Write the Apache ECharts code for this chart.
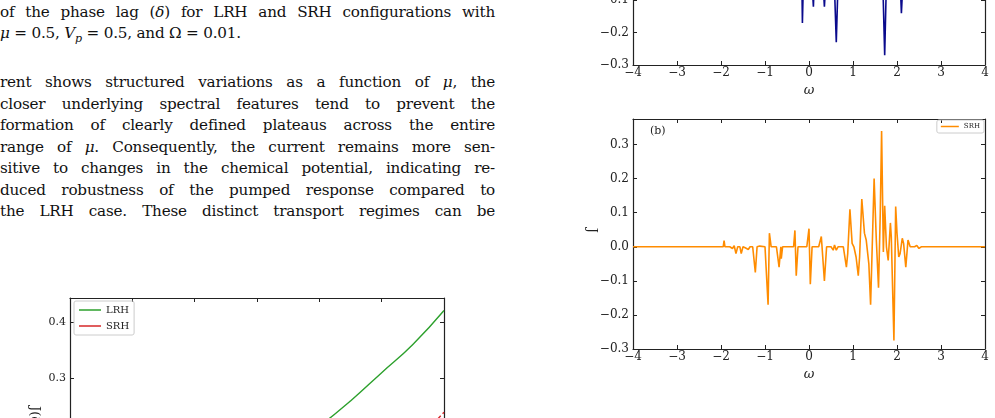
<!DOCTYPE html>
<html><head><meta charset="utf-8">
<script src="https://cdn.jsdelivr.net/npm/echarts@6/dist/echarts.min.js"></script>
<style>
body{margin:0;width:995px;height:418px;overflow:hidden;background:#fff;position:relative;font-family:"DejaVu Serif","Liberation Serif",serif;color:#111}
.ln{position:absolute;left:0;width:495px;font-size:15.2px;line-height:20px;text-align:justify;text-align-last:justify;white-space:nowrap;letter-spacing:-0.2px}
.c{position:absolute}
</style></head><body>
<div class="ln" style="top:2px">of the phase lag (<i>δ</i>) for LRH and SRH configurations with</div>
<div class="ln" style="top:23px;text-align-last:left"><i>μ</i> = 0.5, <i>V<sub style="font-size:11px">p</sub></i> = 0.5, and Ω = 0.01.</div>
<div class="ln" style="top:72px">rent shows structured variations as a function of <i>μ</i>, the</div>
<div class="ln" style="top:93.5px">closer underlying spectral features tend to prevent the</div>
<div class="ln" style="top:115px">formation of clearly defined plateaus across the entire</div>
<div class="ln" style="top:136.5px">range of <i>μ</i>. Consequently, the current remains more sen-</div>
<div class="ln" style="top:158px">sitive to changes in the chemical potential, indicating re-</div>
<div class="ln" style="top:179.5px">duced robustness of the pumped response compared to</div>
<div class="ln" style="top:201px">the LRH case. These distinct transport regimes can be</div>
<div id="ca" class="c" style="left:580px;top:-175px;width:415px;height:290px"></div>
<div id="cb" class="c" style="left:580px;top:110px;width:415px;height:280px"></div>
<div id="cc" class="c" style="left:0px;top:290px;width:470px;height:400px"></div>
<script>
// panel (b) SRH current J(ω)
const srh = [[-4,0],[-1.95,0],[-1.93,0.018],[-1.91,0],[-1.8,0],[-1.78,0.005],[-1.74,-0.005],[-1.7,0.003],[-1.66,-0.02],[-1.62,0],[-1.57,0],[-1.54,-0.02],[-1.5,0],[-1.45,-0.003],[-1.42,0.002],[-1.38,-0.008],[-1.34,0],[-1.28,0],[-1.22,-0.075],[-1.18,0],[-1.12,0.002],[-1.0,0],[-0.93,-0.17],[-0.9,0.04],[-0.86,0],[-0.74,0],[-0.68,-0.06],[-0.64,0],[-0.63,-0.035],[-0.6,0],[-0.35,0],[-0.32,0.048],[-0.29,-0.085],[-0.25,0],[-0.05,0],[0,0.053],[0.03,-0.11],[0.07,0],[0.22,0],[0.28,0.03],[0.35,-0.1],[0.4,0],[0.5,0],[0.55,-0.01],[0.58,0.005],[0.62,-0.01],[0.66,0],[0.78,0],[0.85,-0.06],[0.88,-0.02],[0.93,0.11],[0.98,0.01],[1.02,0.0],[1.07,-0.03],[1.12,-0.085],[1.15,-0.03],[1.2,0.14],[1.26,0.04],[1.3,0.02],[1.36,-0.05],[1.4,-0.17],[1.45,0.06],[1.48,0.2],[1.53,0.02],[1.58,-0.12],[1.62,0.1],[1.65,0.34],[1.69,-0.015],[1.72,0.12],[1.76,0.0],[1.8,-0.04],[1.85,0.07],[1.87,0.03],[1.93,-0.275],[1.97,0.118],[2.0,0.04],[2.04,-0.03],[2.07,-0.02],[2.12,0.025],[2.15,0.01],[2.2,-0.06],[2.25,0.02],[2.3,0],[2.4,0],[2.45,0.004],[2.5,-0.005],[2.55,0],[4,0]];
// panel (a) LRH current J(ω) (only lower part visible)
const lrh = [[-4,0],[-0.3,0],[-0.17,0.05],[-0.15,-0.17],[-0.12,0],[0.05,0],[0.1,-0.12],[0.14,0.03],[0.3,0],[0.35,-0.12],[0.4,0],[0.55,0.06],[0.62,-0.23],[0.68,0.05],[0.8,0],[1.5,0],[1.65,0.1],[1.72,-0.27],[1.78,0.08],[1.9,0],[2.05,0.04],[2.1,-0.14],[2.15,0],[4,0]];
// left panel: J(δ)
const deltaX = [3.0,3.5,4.0,4.5,5.0,5.5,6.0];
const lrhDelta = [0.14,0.175,0.215,0.26,0.31,0.36,0.42];
const srhDeltaX = [5.8,5.9,6.0];
const srhDelta = [0.215,0.228,0.24];

const FONT='"DejaVu Serif","Liberation Serif",serif';
function axes(xmin,xmax,xint,ymin,ymax,yint,showX,yFmt,fs){
  const base={axisLine:{show:true,onZero:false,lineStyle:{color:'#222',width:1.2}},axisTick:{inside:true,length:4,lineStyle:{color:'#222'}},splitLine:{show:false}};
  return {
    xAxis:[Object.assign({type:'value',min:xmin,max:xmax,interval:xint,position:'bottom',axisLabel:{show:showX,color:'#222',fontFamily:FONT,fontSize:fs,margin:2,formatter:v=>String(v).replace('-','\u2212')},name:showX?'ω':'',nameLocation:'middle',nameGap:18,nameTextStyle:{fontFamily:FONT,fontStyle:'italic',fontSize:13,color:'#222'}},base),
           Object.assign({type:'value',min:xmin,max:xmax,interval:xint,position:'top',axisLabel:{show:false}},base)],
    yAxis:[Object.assign({type:'value',min:ymin,max:ymax,interval:yint,position:'left',axisLabel:{color:'#222',fontFamily:FONT,fontSize:fs,margin:4,showMaxLabel:false,formatter:yFmt}},base),
           Object.assign({type:'value',min:ymin,max:ymax,interval:yint,position:'right',axisLabel:{show:false}},base)]
  };
}
const yf=v=>(v.toFixed(1)).replace('-','\u2212').replace('\u22120.0','0.0');

// panel (a)
const ca=echarts.init(document.getElementById('ca'));
ca.setOption(Object.assign({animation:false,grid:{left:53,right:10,top:10,bottom:50}},
 axes(-4,4,1,-0.3,0.41,0.1,true,yf,12),
 {series:[{type:'line',data:lrh,showSymbol:false,lineStyle:{color:'#0a0a8c',width:1.6},clip:true}]}));

// panel (b)
const cb=echarts.init(document.getElementById('cb'));
cb.setOption(Object.assign({animation:false,grid:{left:53,right:10,top:9,bottom:41},
 legend:{right:11,top:10,itemWidth:18,itemHeight:1.5,itemGap:2,padding:[3,4],borderColor:'#ccc',borderWidth:1,borderRadius:2,textStyle:{fontFamily:FONT,fontSize:7,color:'#222'},data:[{name:'SRH',icon:'rect'}]},
 graphic:[{type:'text',left:70,top:16,style:{text:'(b)',font:'11px '+FONT,fill:'#222'}},
          {type:'text',left:5,top:118,rotation:-Math.PI/2,style:{text:'J',font:'12px '+FONT,fill:'#222'}}]},
 axes(-4,4,1,-0.3,0.375,0.1,true,yf,12),
 {series:[{name:'SRH',type:'line',data:srh,showSymbol:false,lineStyle:{color:'#ff8c00',width:1.6},itemStyle:{color:'#ff8c00'}}]}));

// left chart
const cc=echarts.init(document.getElementById('cc'));
cc.setOption(Object.assign({animation:false,grid:{left:70,right:26,top:8,bottom:142},
 legend:{left:74,top:11,orient:'vertical',itemWidth:22,itemHeight:1.5,itemGap:6,padding:[4,5],borderColor:'#ccc',borderWidth:1,borderRadius:2,textStyle:{fontFamily:FONT,fontSize:10,color:'#222'},
   data:[{name:'LRH',icon:'rect'},{name:'SRH',icon:'rect'}]},
 graphic:[{type:'text',left:28,top:116,rotation:-Math.PI/2,style:{text:'J(δ)',font:'13px '+FONT,fill:'#222'}}]},
 axes(0,6,1,0,0.442,0.1,false,yf,11),
 {series:[{name:'LRH',type:'line',data:deltaX.map((x,i)=>[x,lrhDelta[i]]),smooth:true,showSymbol:false,lineStyle:{color:'#2ca02c',width:1.4},itemStyle:{color:'#2ca02c'}},
          {name:'SRH',type:'line',data:srhDeltaX.map((x,i)=>[x,srhDelta[i]]),showSymbol:false,lineStyle:{color:'#d62728',width:1.4,type:'dashed'},itemStyle:{color:'#d62728'}}]}));
</script></body></html>
